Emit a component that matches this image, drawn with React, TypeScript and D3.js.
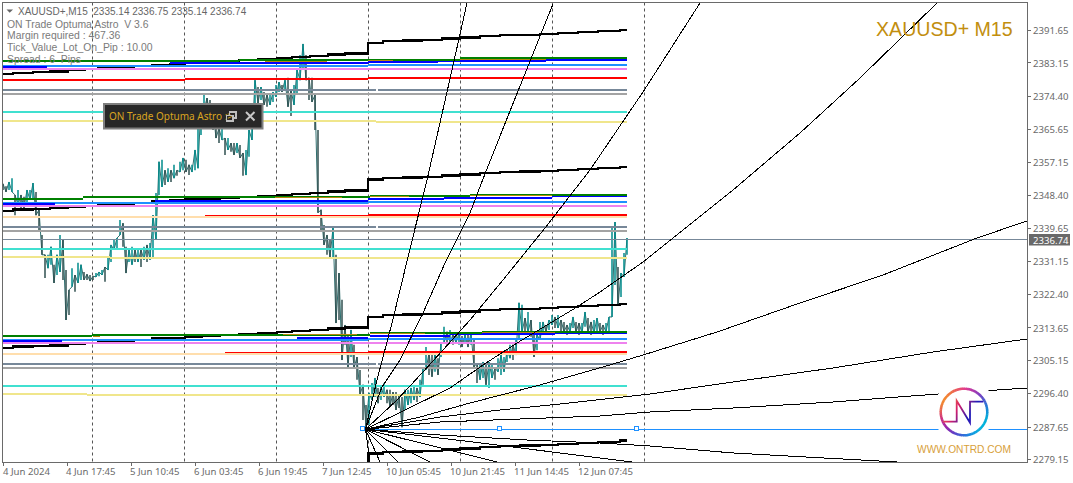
import React from "react";
import * as d3 from "d3";

const W = 1073, H = 483;
const plot = { left: 2.5, right: 1027.5, top: 2.5, bottom: 462.5 };

// Price axis and time axis
const priceTicks = [2391.65, 2383.15, 2374.4, 2365.65, 2357.15, 2348.4, 2339.65, 2331.15, 2322.4, 2313.65, 2305.15, 2296.4, 2287.65, 2279.15];
const timeLabels = ["4 Jun 2024", "4 Jun 17:45", "5 Jun 10:45", "6 Jun 03:45", "6 Jun 19:45", "7 Jun 12:45", "10 Jun 05:45", "10 Jun 21:45", "11 Jun 14:45", "12 Jun 07:45"];
const timeTickBars = [0, 64, 128, 192, 256, 320, 384, 448, 512, 576];
const separatorBars = [89.5, 181.5, 273.5, 365.5, 457.5, 549.5, 641.5];
const lastPrice = 2336.74;

// One high/low pair for every third M15 bar
const barStep = 3;
const priceHigh = [
  2351.3, 2350.7, 2351.8, 2352.8, 2348.4, 2349.7, 2348.4, 2347.9, 2349.7, 2349.7, 2351.5, 2349.2, 2344.5, 2337.9, 2332.7, 2332.7, 2334.8, 2330.1, 2332.7, 2337.9, 2336.6,
  2328.7, 2323.5, 2329.2, 2327.4, 2330.6, 2330.1, 2328.2, 2327.6, 2327.4, 2327.1, 2327.9, 2328.2, 2328.7, 2329.5, 2332.1, 2335.3, 2336.6, 2337.1, 2341.8, 2341.0,
  2334.8, 2334, 2334.8, 2334, 2334.5, 2334, 2334.8, 2335.3, 2335.8, 2343.1, 2348.9, 2357.1, 2357.6, 2354.9, 2355.4, 2354.9, 2356.3, 2354.9, 2357.1, 2358.1,
  2357.6, 2356.3, 2356.3, 2360.2, 2367.3, 2372.5, 2374.6, 2373.8, 2373.3, 2370.7, 2367.5, 2365.9, 2366.7, 2363.3, 2363.3, 2362, 2362, 2362, 2361.5, 2359.4,
  2360.2, 2365.4, 2372.5, 2378.5, 2376.7, 2376.7, 2375.4, 2374.6, 2374.6, 2375.4, 2377.2, 2378, 2377.2, 2378.5, 2379.1, 2375.9, 2377.2, 2381.2, 2385.1, 2388,
  2385.1, 2379.1, 2379.1, 2374.6, 2365.4, 2344.5, 2340.5, 2337.9, 2336.6, 2339.7, 2332.7, 2327.9, 2320.9, 2314.3, 2311.7, 2313, 2309.1, 2305.9, 2302.5, 2298.6,
  2293.3, 2296.5, 2299.1, 2300.4, 2297.8, 2298.3, 2299.1, 2297.3, 2297.3, 2296.7, 2296.7, 2296, 2295.4, 2297.3, 2297.3, 2297.8, 2298.3, 2297.8, 2299.9, 2303,
  2308.5, 2307, 2306.4, 2307, 2305.6, 2309.6, 2313.8, 2312.5, 2313, 2311.7, 2311.7, 2312.2, 2311.4, 2311.7, 2311.7, 2312.2, 2310.4, 2304.3, 2303.8, 2304.6,
  2303.8, 2304.6, 2304.3, 2303, 2305.6, 2306.4, 2305.9, 2307.7, 2309.1, 2309.1, 2310.4, 2320.1, 2319.6, 2316.1, 2317.7, 2315.6, 2311.7, 2311.7, 2315.1, 2315.1,
  2314.3, 2315.6, 2316.9, 2316.4, 2316.9, 2315.6, 2315.1, 2314.3, 2314.8, 2316.4, 2315.1, 2314.8, 2314.8, 2317.7, 2316.1, 2315.1, 2315.6, 2316.1, 2314.8, 2314.3,
  2314.8, 2316.4, 2340, 2341.3, 2329.5, 2327.9, 2333.2, 2337.1,
];
const priceLow = [
  2349.7, 2349.2, 2349.7, 2349.2, 2343.1, 2345.8, 2345.0, 2345.0, 2346.3, 2347.1, 2347.6, 2343.1, 2338.7, 2332.7, 2326.6, 2329.2, 2330.1, 2325.3, 2327.4, 2328.2, 2326.1,
  2315.6, 2316.9, 2324.3, 2323.0, 2325.3, 2326.1, 2326.1, 2326.1, 2325.8, 2326.1, 2326.9, 2327.1, 2327.4, 2325.6, 2328.7, 2330.8, 2334, 2334, 2337.9, 2334.8,
  2327.9, 2330.8, 2330.1, 2330.8, 2330.8, 2329.5, 2331.4, 2330.8, 2331.4, 2332.1, 2336.6, 2348.4, 2350.5, 2351, 2351.8, 2351.8, 2352.8, 2353.4, 2354.4, 2354.9,
  2354.4, 2353.6, 2354.4, 2354.9, 2355.4, 2364.1, 2370.7, 2370.7, 2369.4, 2365.4, 2363.3, 2362, 2362.8, 2358.9, 2360.2, 2359.7, 2358.9, 2359.4, 2358.1, 2353.4,
  2353.6, 2358.4, 2362.8, 2372, 2372.5, 2373.3, 2372, 2371.5, 2372, 2372.8, 2374.1, 2375.4, 2375.4, 2375.9, 2371.5, 2369.1, 2372, 2374.6, 2378.5, 2381.2,
  2378.5, 2373.3, 2372.8, 2365.4, 2343.7, 2338.7, 2335.3, 2332.7, 2332.1, 2332.1, 2314.8, 2315.6, 2305.1, 2309.1, 2303.3, 2305.9, 2303, 2299.9, 2296, 2289.4,
  2287.3, 2288.1, 2294.6, 2295.4, 2293.8, 2294.6, 2295.4, 2293.8, 2292.8, 2293.3, 2292, 2292.5, 2287.5, 2292, 2293.3, 2293.8, 2294.6, 2294.1, 2295.4, 2298.6,
  2302.5, 2301.2, 2300.7, 2302, 2301.2, 2305.9, 2309.6, 2309.1, 2309.9, 2309.1, 2309.6, 2309.1, 2308.5, 2309.6, 2308.5, 2309.1, 2303.3, 2299.1, 2299.9, 2300.4,
  2298.6, 2297.8, 2300.4, 2299.9, 2302, 2301.2, 2302, 2304.6, 2305.6, 2305.1, 2306.4, 2310.4, 2312.5, 2311.7, 2312.5, 2311.2, 2305.9, 2307.7, 2310.4, 2312.5,
  2312.5, 2313, 2314.3, 2313.5, 2313.5, 2312.5, 2312.5, 2311.7, 2312.5, 2313.5, 2312.5, 2311.7, 2312.2, 2313.8, 2312.5, 2311.7, 2312.2, 2312.2, 2312.5, 2311.7,
  2312.5, 2312.5, 2316.4, 2324.8, 2319.5, 2321.6, 2326.9, 2332.7,
];

// Stepped thick black levels: bar index of each step, then one price list per band
const blackStepBars = [0, 10, 30, 47, 65, 82, 95, 131, 149, 167, 182, 199, 217, 236, 255, 274, 289, 307, 325, 342, 365, 380, 400, 419, 439, 457, 477, 497, 517, 537, 555, 575, 595, 617, 624];
const blackBandA = [2380.1, 2380.45, 2380.6, 2380.8, 2381.1, 2381.4, 2381.8, 2382.2, 2382.55, 2382.8, 2383.1, 2383.25, 2383.5, 2383.8, 2384.05, 2384.3, 2384.6, 2384.85, 2385.2, 2385.45, 2388.3, 2388.7, 2388.85, 2389.0, 2389.4, 2389.65, 2390.0, 2390.3, 2390.4, 2390.6, 2390.85, 2391.1, 2391.4, 2391.7, 2391.7];
const blackBandB = [2344.2, 2344.55, 2344.7, 2344.9, 2345.2, 2345.5, 2345.9, 2346.3, 2346.65, 2346.9, 2347.2, 2347.35, 2347.6, 2347.9, 2348.15, 2348.4, 2348.7, 2348.95, 2349.3, 2349.55, 2352.4, 2352.8, 2352.95, 2353.1, 2353.5, 2353.75, 2354.1, 2354.4, 2354.5, 2354.7, 2354.95, 2355.2, 2355.5, 2355.8, 2355.8];
const blackBandC = [2308.3, 2308.6, 2308.75, 2308.95, 2309.25, 2309.55, 2309.95, 2310.35, 2310.7, 2310.95, 2311.25, 2311.4, 2311.65, 2311.95, 2312.2, 2312.45, 2312.75, 2313.0, 2313.35, 2313.6, 2316.45, 2316.85, 2317.0, 2317.15, 2317.55, 2317.8, 2318.15, 2318.45, 2318.55, 2318.75, 2319.0, 2319.25, 2319.55, 2319.85, 2319.85];
const blackBandD = [2272.5, 2272.9, 2273, 2273.2, 2273.5, 2273.8, 2274.2, 2274.6, 2274.9, 2275.2, 2275.5, 2275.6, 2275.9, 2276.2, 2276.4, 2276.7, 2277, 2277.2, 2277.6, 2277.8, 2280.55, 2280.95, 2281.1, 2281.25, 2281.65, 2281.9, 2282.25, 2282.55, 2282.65, 2282.85, 2283.1, 2283.35, 2283.65, 2283.95, 2283.95];

// Flat level segments: [first bar, last bar, price]
type Seg = [number, number, number];
const slateSegments: Seg[] = [[0, 373, 2375.9], [375, 624, 2375.9], [0, 373, 2340.0], [375, 624, 2340.0], [0, 373, 2304.06], [375, 624, 2304.06]];
const graySegments: Seg[] = [[0, 624, 2374.87], [0, 624, 2338.94], [0, 624, 2303.0]];
const turquoiseSegments: Seg[] = [[0, 624, 2370.15], [0, 624, 2334.22], [0, 624, 2298.3]];
const khakiSegments: Seg[] = [[0, 373, 2367.87], [373, 624, 2367.52], [0, 107, 2332.2], [107, 624, 2331.86], [0, 84, 2296.2], [84, 624, 2295.93]];
const peachSegments: Seg[] = [[0, 624, 2342.67], [0, 624, 2306.69]];
const redThinSegments: Seg[] = [[202, 365, 2343.05], [222, 365, 2307.03]];
const redSegments: Seg[] = [[0, 182, 2378.54], [182, 365, 2378.8], [365, 624, 2379.06], [365, 624, 2343.13], [365, 624, 2307.29]];
const violetSegments: Seg[] = [[0, 624, 2381.43], [0, 624, 2345.5], [0, 624, 2309.62]];
const dodgerSegments: Seg[] = [[0, 365, 2382.2], [365, 624, 2382.47], [0, 365, 2346.28], [365, 624, 2346.55], [0, 365, 2310.43], [365, 624, 2310.62]];
const blueSegments: Seg[] = [
  [0, 44, 2381.85], [167, 365, 2382.92], [365, 435, 2383.26], [435, 543, 2383.6], [543, 624, 2383.86],
  [0, 52, 2346.15], [152, 365, 2346.8], [365, 441, 2347.25], [441, 549, 2347.72], [549, 624, 2348.12],
  [0, 59, 2310.1], [294, 365, 2310.88], [367, 447, 2311.4], [447, 552, 2311.85], [552, 624, 2312.1],
];
const greenSegments: Seg[] = [
  [0, 236, 2383.52], [236, 457, 2383.9], [457, 624, 2384.3],
  [0, 80, 2347.33], [80, 367, 2347.78], [367, 467, 2348.04], [467, 624, 2348.51],
  [0, 89, 2311.4], [89, 367, 2311.74], [367, 479, 2312.1], [479, 624, 2312.45],
];
const goldSegments: Seg[] = [
  [262, 324, 2383.5], [365, 390, 2383.65], [457, 543, 2384.0],
  [272, 339, 2347.6], [367, 406, 2347.86], [467, 549, 2348.12],
  [90, 97, 2311.4], [280, 354, 2311.74], [367, 422, 2311.93], [479, 552, 2312.27],
];

// Fan drawn from the swing low: bar index and price along each curve
const fanOriginBar = 362.5;
const fanOriginPrice = 2286.94;
const fanBars: number[][] = [
  [374, 389, 405, 424, 444, 464],
  [379, 397, 420, 442, 467, 480, 503, 550],
  [394, 419, 440, 467, 500, 542, 587, 640, 697],
  [447, 480, 514, 574, 597, 640, 670, 730, 797, 857, 934],
  [417, 467, 537, 600, 640, 714, 797, 880, 974, 1024],
  [437, 497, 557, 647, 730, 830, 930, 1024],
  [437, 597, 647, 730, 830, 935, 1024],
  [437, 524, 597, 647, 730, 894],
  [470, 597, 629],
  [494],
  [427],
  [395],
  [377],
  [367],
];
const fanPrices: number[][] = [
  [2299.87, 2314.81, 2332.12, 2352.31, 2375.39, 2398.73],
  [2298.03, 2305.11, 2317.44, 2330.55, 2343.66, 2352.58, 2367.79, 2398.47],
  [2294.62, 2301.7, 2307.73, 2315.6, 2326.09, 2339.73, 2354.94, 2375.39, 2398.73],
  [2297.77, 2303.8, 2309.57, 2319.01, 2322.94, 2330.81, 2337.11, 2349.69, 2364.64, 2379.06, 2398.73],
  [2290.16, 2293.84, 2298.56, 2303.28, 2306.42, 2312.45, 2320.06, 2327.4, 2337.11, 2341.56],
  [2290.16, 2292.0, 2293.57, 2296.2, 2299.34, 2303.02, 2307.21, 2310.62],
  [2288.85, 2290.43, 2291.48, 2292.52, 2294.1, 2296.2, 2297.77],
  [2285.44, 2284.13, 2283.35, 2282.56, 2280.73, 2278.36],
  [2283.61, 2279.41, 2278.36],
  [2278.36],
  [2278.36],
  [2278.36],
  [2278.36],
  [2278.36],
];
const anchorBars = [360.5, 497, 633.5];

const infoLines = ["ON Trade Optuma Astro  V 3.6", "Margin required : 467.36", "Tick_Value_Lot_On_Pip : 10.00", "Spread : 6  Pips"];
const ringColors = ["#e23d8e", "#8a2fc0", "#1976d8", "#00bcd8", "#00aee0", "#2f6ee0", "#7a22b8", "#d81f8a", "#f5a020", "#f0703a", "#e23d8e"];

const x = d3.scaleLinear().domain([0, 624]).range([3, 627]);
const y = d3.scaleLinear().domain([2279.15, 2391.65]).range([459, 30]);

const stepLine = d3.line<[number, number]>().x((d) => x(d[0])).y((d) => y(d[1])).curve(d3.curveStepAfter);
const fanLine = d3.line<[number, number]>().x((d) => x(d[0])).y((d) => y(d[1]));
const zigzagLine = d3.line<[number, number]>().x((d) => x(d[0])).y((d) => y(d[1]));
const ringArc = d3.arc();
const ringColor = d3.interpolateRgbBasis(ringColors);

const UI = "'Noto Sans', sans-serif";
const TXT = "'Liberation Sans', sans-serif";
const AXIS = "#6a6a6a";

function Levels({ segs, color, width }: { segs: Seg[]; color: string; width: number }) {
  return (
    <g stroke={color} strokeWidth={width} shapeRendering="crispEdges">
      {segs.map((s, i) => (
        <line key={i} x1={x(s[0])} x2={x(s[1])} y1={y(s[2])} y2={y(s[2])} />
      ))}
    </g>
  );
}

export default function App() {
  const blackBands = [blackBandA, blackBandB, blackBandC, blackBandD];
  const ringN = 72;
  const zigzag = priceHigh.map((h, i) => [i * barStep, i % 2 === 0 ? h : priceLow[i]] as [number, number]);
  return (
    <svg width={W} height={H} viewBox={`0 0 ${W} ${H}`} style={{ position: "absolute", left: 0, top: 0, background: "#fff" }}>
      <defs>
        <clipPath id="plotClip">
          <rect x={plot.left} y={plot.top} width={plot.right - plot.left} height={plot.bottom - plot.top} />
        </clipPath>
        <linearGradient id="nGrad" gradientUnits="userSpaceOnUse" x1={943} y1={400} x2={984} y2={424}>
          <stop offset="0" stopColor="#f5a020" />
          <stop offset="0.35" stopColor="#d81f6a" />
          <stop offset="0.65" stopColor="#1a1ab8" />
          <stop offset="1" stopColor="#7a22b8" />
        </linearGradient>
      </defs>

      <g clipPath="url(#plotClip)">
        {separatorBars.map((b) => (
          <line key={b} x1={x(b)} x2={x(b)} y1={plot.top} y2={plot.bottom} stroke="#555" strokeDasharray="3 3" />
        ))}

        <path d={zigzagLine(zigzag) || ""} fill="none" stroke="#2f6f6f" strokeWidth={1} />
        {priceHigh.map((h, i) => {
          const prevMid = i > 0 ? (priceHigh[i - 1] + priceLow[i - 1]) / 2 : h;
          const mid = (h + priceLow[i]) / 2;
          return (
            <line
              key={i}
              x1={x(i * barStep)}
              x2={x(i * barStep)}
              y1={y(h)}
              y2={y(priceLow[i])}
              stroke={mid >= prevMid ? "#008b8b" : "#2f4f4f"}
              strokeWidth={1.5}
            />
          );
        })}

        <line x1={plot.left} x2={plot.right} y1={y(lastPrice)} y2={y(lastPrice)} stroke="#778899" shapeRendering="crispEdges" />

        {blackBands.map((band, k) => (
          <path
            key={k}
            d={stepLine(band.map((p, i) => [blackStepBars[i], p] as [number, number])) || ""}
            fill="none"
            stroke="#000"
            strokeWidth={2.4}
            shapeRendering="crispEdges"
          />
        ))}

        <Levels segs={peachSegments} color="#ffdead" width={2} />
        <Levels segs={slateSegments} color="#778899" width={2} />
        <Levels segs={graySegments} color="#a3a3a3" width={2} />
        <Levels segs={turquoiseSegments} color="#40e0d0" width={2} />
        <Levels segs={khakiSegments} color="#f0e68c" width={2} />
        <Levels segs={redSegments} color="#ff0000" width={2} />
        <Levels segs={redThinSegments} color="#ff0000" width={1} />
        <Levels segs={violetSegments} color="#ee82ee" width={2} />
        <Levels segs={dodgerSegments} color="#1e90ff" width={2} />
        <Levels segs={blueSegments} color="#0000ff" width={2} />
        <Levels segs={greenSegments} color="#008000" width={2} />
        <Levels segs={goldSegments} color="#b8860b" width={1} />

        <line x1={x(anchorBars[0])} x2={plot.right} y1={y(fanOriginPrice)} y2={y(fanOriginPrice)} stroke="#1e90ff" shapeRendering="crispEdges" />
        {fanBars.map((bars, k) => (
          <path
            key={k}
            d={fanLine([[fanOriginBar, fanOriginPrice] as [number, number], ...bars.map((b, i) => [b, fanPrices[k][i]] as [number, number])]) || ""}
            fill="none"
            stroke="#000"
            strokeWidth={1}
            shapeRendering="crispEdges"
          />
        ))}
        {anchorBars.map((b) => (
          <rect key={b} x={Math.round(x(b)) - 2.5} y={Math.round(y(fanOriginPrice)) - 2.5} width={4} height={4} fill="#fff" stroke="#1e90ff" shapeRendering="crispEdges" />
        ))}
      </g>

      {/* logo */}
      <rect x={938.5} y={385} width={50} height={55} fill="#fff" />
      <g transform="translate(964,412)">
        {d3.range(ringN).map((i) => (
          <path
            key={i}
            d={ringArc({ innerRadius: 22, outerRadius: 24.5, startAngle: (i / ringN) * 2 * Math.PI, endAngle: ((i + 1.2) / ringN) * 2 * Math.PI }) || ""}
            fill={ringColor(i / ringN)}
          />
        ))}
      </g>
      <path d="M943.3,421.7 H956.7 V400.7 L970,422.7 V401.7 H983.3" fill="none" stroke="url(#nGrad)" strokeWidth={1.8} />
      <text x={964} y={453} textAnchor="middle" fontFamily={TXT} fontSize={10.2} fill="#d8a03a">WWW.ONTRD.COM</text>

      {/* frame */}
      <rect x={plot.left} y={plot.top} width={plot.right - plot.left} height={plot.bottom - plot.top} fill="none" stroke={AXIS} shapeRendering="crispEdges" />

      {/* price axis */}
      {priceTicks.map((p) => (
        <g key={p}>
          <line x1={plot.right} x2={plot.right + 3} y1={Math.round(y(p)) + 0.5} y2={Math.round(y(p)) + 0.5} stroke={AXIS} shapeRendering="crispEdges" />
          <text x={1033} y={y(p) + 4.2} fontFamily={UI} fontSize={9.6} fill={AXIS}>{p.toFixed(2)}</text>
        </g>
      ))}
      <rect x={1029} y={234} width={41} height={11.5} fill="#696969" />
      <text x={1033} y={243.5} fontFamily={UI} fontSize={9.6} fill="#fff">{lastPrice.toFixed(2)}</text>

      {/* time axis */}
      {timeTickBars.map((b, i) => (
        <g key={b}>
          <line x1={x(b) + 0.5} x2={x(b) + 0.5} y1={plot.bottom} y2={plot.bottom + 3} stroke={AXIS} shapeRendering="crispEdges" />
          <text x={x(b) - (i === 0 ? 0 : 1)} y={475} fontFamily={UI} fontSize={9.6} fill={AXIS}>{timeLabels[i]}</text>
        </g>
      ))}

      {/* header */}
      <path d="M6.5,9.5 H13 L9.7,12.8 Z" fill="#666" />
      <text x={18} y={14.5} fontFamily={TXT} fontSize={10} fill="#666" xmlSpace="preserve" style={{ whiteSpace: "pre" }}>XAUUSD+,M15  2335.14 2336.75 2335.14 2336.74</text>
      {infoLines.map((t, i) => (
        <text key={t} x={7} y={27.5 + i * 11.9} fontFamily={TXT} fontSize={10.4} fill="#7a7a7a" xmlSpace="preserve" style={{ whiteSpace: "pre" }}>{t}</text>
      ))}

      {/* panel */}
      <rect x={104} y={104} width={158.5} height={24.5} fill="#282828" stroke="#7f7f7f" strokeWidth={2} />
      <text x={109} y={119.5} fontFamily={UI} fontSize={10} fill="#daa520">ON Trade Optuma Astro :&gt;</text>
      <g fill="none" stroke="#bfbfbf" strokeWidth={1.2} shapeRendering="crispEdges">
        <rect x={226.5} y={115.5} width={6.5} height={5.5} />
        <path d="M229.5,115 V112 H236 V118 H233" />
      </g>
      <path d="M246,112 L254.5,120.5 M254.5,112 L246,120.5" stroke="#c8c8c8" strokeWidth={2} />

      <text x={876} y={36} fontFamily={TXT} fontSize={19.6} fill="#c28e0e">XAUUSD+ M15</text>
    </svg>
  );
}
